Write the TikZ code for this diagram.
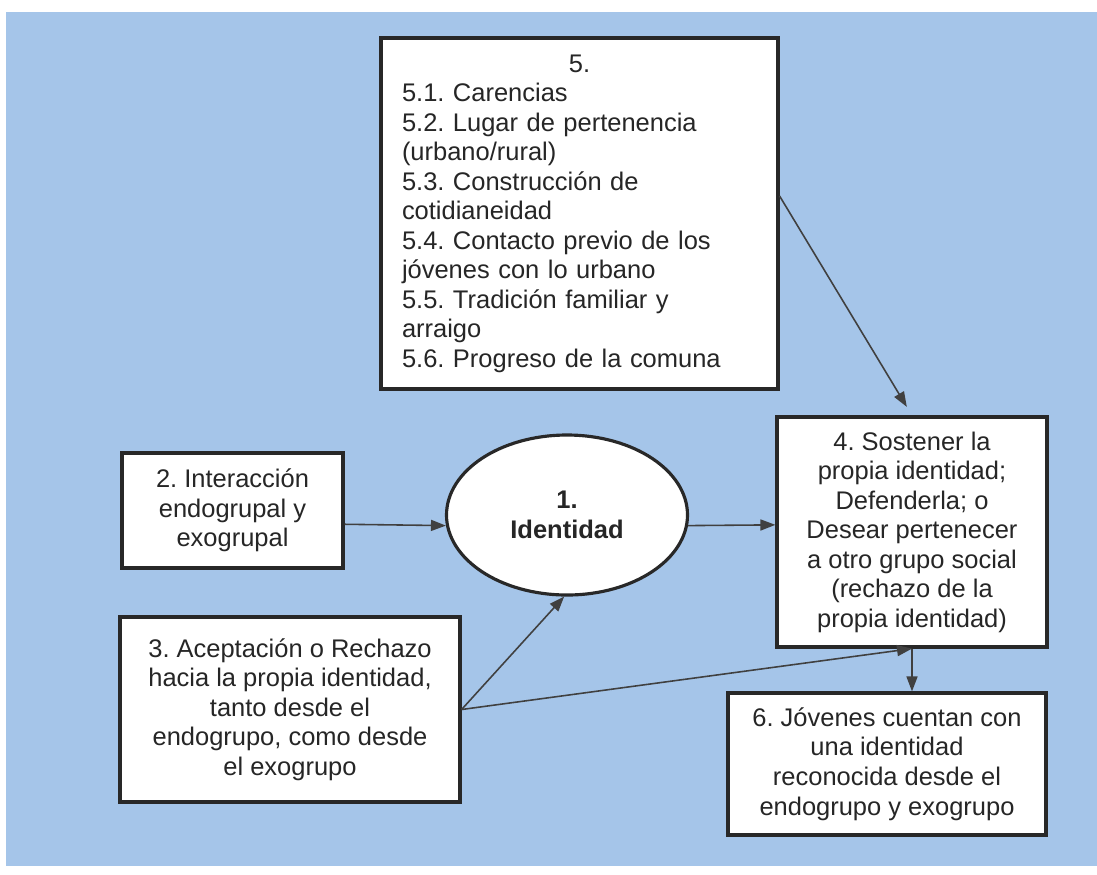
\documentclass[tikz,border=0pt]{standalone}
\usepackage{fontspec}
\setmainfont{Liberation Sans}
\usetikzlibrary{arrows.meta,shapes.geometric}
\definecolor{fondo}{RGB}{165,197,233}
\definecolor{borde}{RGB}{40,40,40}
\frenchspacing

\begin{document}
\begin{tikzpicture}[
    caja/.style={draw=borde, line width=1.8pt, fill=white, text=black!85, align=center, inner sep=0pt,
                 font=\fontsize{14.5}{16.8}\selectfont},
    flecha/.style={draw=black!75, line width=0.9pt, -{Triangle[length=0.3cm,width=0.22cm]}}
  ]
                % Define the page and the background
                \useasboundingbox (0,0) rectangle (21.94,-17.48);
                \fill[fondo] (0.12,-0.24) rectangle (21.94,-17.32);

                % Define the box of factors
                \node[caja, minimum width=7.94cm, minimum height=7.02cm, text width=7.1cm, align=left] (caja5) at (11.59,-4.27)
                  {\hfill 5.\hfill\null\\
                   5.1. Carencias\\
                   5.2. Lugar de pertenencia\\
                   (urbano/rural)\\
                   5.3. Construcción de\\
                   cotidianeidad\\
                   5.4. Contacto previo de los\\
                   jóvenes con lo urbano\\
                   5.5. Tradición familiar y\\
                   arraigo\\
                   5.6. Progreso de la comuna};

                % Define the identity
                \node[caja, ellipse, minimum width=4.82cm, minimum height=3.2cm,
                      font=\fontsize{14.5}{16.8}\selectfont\bfseries] (identidad) at (11.34,-10.3) {1.\\Identidad};

                % Define the other boxes
                \node[caja, minimum width=4.42cm, minimum height=2.3cm] (caja2) at (4.65,-10.21)
                  {2. Interacción\\endogrupal y\\exogrupal};
                \node[caja, minimum width=6.8cm, minimum height=3.7cm] (caja3) at (5.8,-14.19)
                  {3. Aceptación o Rechazo\\hacia la propia identidad,\\tanto desde el\\endogrupo, como desde\\el exogrupo};
                \node[caja, minimum width=5.4cm, minimum height=4.6cm] (caja4) at (18.24,-10.64)
                  {4. Sostener la\\propia identidad;\\Defenderla; o\\Desear pertenecer\\a otro grupo social\\(rechazo de la\\propia identidad)};
                \node[caja, minimum width=6.36cm, minimum height=2.84cm] (caja6) at (17.74,-15.28)
                  {6. Jóvenes cuentan con\\una identidad\\reconocida desde el\\endogrupo y exogrupo};

                % Add the arrows
                \draw[flecha] (caja2.-7.5) -- (identidad.185);
                \draw[flecha] (identidad.-5) -- (caja4.177);
                \draw[flecha, shorten >=0.2cm] (caja5.5) -- (caja4.north);
                \draw[flecha] (caja3.east) -- (identidad.268);
                \draw[flecha] (caja3.east) -- (caja4.south);
                \draw[flecha] (caja4.south) -- (caja4.south |- caja6.north);

            \end{tikzpicture}
\end{document}
